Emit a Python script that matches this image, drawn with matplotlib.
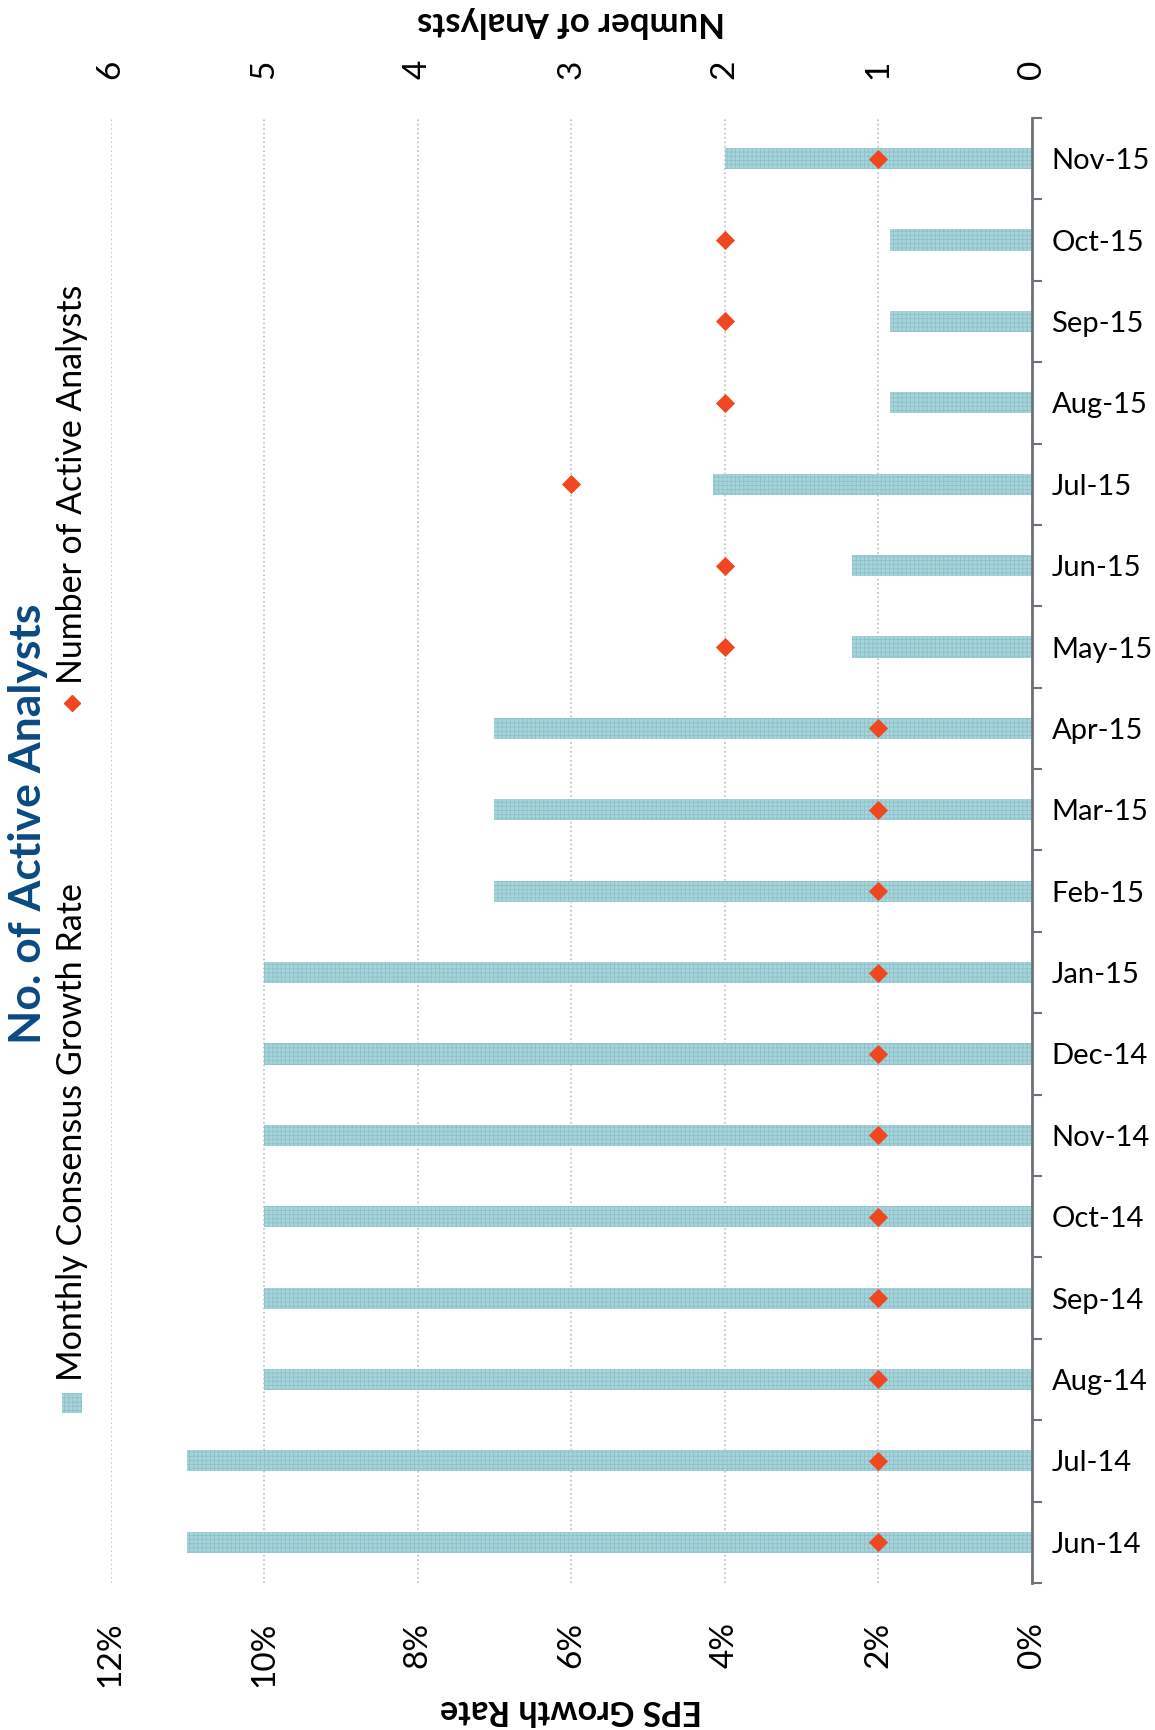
import matplotlib.pyplot as plt
import numpy as np
from matplotlib.patches import Rectangle
from matplotlib.lines import Line2D

plt.rcParams['font.family'] = ['Lato', 'DejaVu Sans']
plt.rcParams['hatch.linewidth'] = 0.6
plt.rcParams['hatch.color'] = '#8cc2ca'

months = ["Jun-14", "Jul-14", "Aug-14", "Sep-14", "Oct-14", "Nov-14", "Dec-14",
          "Jan-15", "Feb-15", "Mar-15", "Apr-15", "May-15", "Jun-15", "Jul-15",
          "Aug-15", "Sep-15", "Oct-15", "Nov-15"]
growth = [11, 11, 10, 10, 10, 10, 10, 10, 7, 7, 7, 2.35, 2.35, 4.15, 1.85, 1.85, 1.85, 4]
analysts = [1, 1, 1, 1, 1, 1, 1, 1, 1, 1, 1, 2, 2, 3, 2, 2, 2, 1]
pct_ticks = [0, 2, 4, 6, 8, 10, 12]
num_ticks = [0, 1, 2, 3, 4, 5, 6]

bar_col = '#a8d3d9'
dia_col = '#ef4722'
axis_col = '#6d7278'
title_col = '#0b4a82'

fig = plt.figure(figsize=(11.55, 17.3), dpi=100)
ax = fig.add_axes([0.0957, 0.085, 0.7978, 0.8468])

y = np.arange(len(months))
ax.barh(y, growth, height=0.26, color=bar_col, hatch='++++', linewidth=0, zorder=2)
ax.set_xlim(12, 0)
ax.set_ylim(-0.5, len(months) - 0.5)

# months on the right side
ax.yaxis.tick_right()
ax.set_yticks(y)
ax.set_yticklabels(months, fontsize=21)
ax.set_yticks(np.arange(-0.5, len(months)), minor=True)
ax.tick_params(axis='y', which='major', length=0, pad=14)
ax.tick_params(axis='y', which='minor', length=7, width=1.5, color=axis_col)

ax.set_xticks(pct_ticks)
ax.set_xticklabels(["%d%%" % t for t in pct_ticks], rotation=90, fontsize=24)
ax.tick_params(axis='x', length=0, pad=28)
ax.grid(axis='x', color='#bfbfbf', linestyle=':', linewidth=1.2, zorder=0)

for s in ['top', 'left', 'bottom']:
    ax.spines[s].set_visible(False)
ax.spines['right'].set_color(axis_col)
ax.spines['right'].set_linewidth(2)

ax2 = ax.twiny()
ax2.set_xlim(6, 0)
ax2.scatter(analysts, y, marker='D', s=95, color=dia_col, zorder=5, linewidths=0)
ax2.set_xticks(num_ticks)
ax2.set_xticklabels([str(t) for t in num_ticks], rotation=90, fontsize=24)
ax2.tick_params(axis='x', length=0, pad=28)
for s in ax2.spines.values():
    s.set_visible(False)

# axis titles (upside down)
fig.text(0.494, 1 - 1710 / 1730, "EPS Growth Rate", rotation=180, fontsize=24.5,
         fontweight='bold', ha='center', va='center')
fig.text(0.494, 1 - 22 / 1730, "Number of Analysts", rotation=180, fontsize=25,
         fontweight='bold', ha='center', va='center')

# title and legend, rotated
fig.text(28 / 1155, 1 - 824 / 1730, "No. of Active Analysts", rotation=90, fontsize=32,
         fontweight='bold', color=title_col, ha='center', va='center')
fig.patches.append(Rectangle((62 / 1155, 1 - 1413 / 1730), 20 / 1155, 20 / 1730,
                             transform=fig.transFigure, facecolor=bar_col, hatch='++++',
                             linewidth=0))
fig.text(72 / 1155, 1 - 1381 / 1730, "Monthly Consensus Growth Rate", rotation=90,
         fontsize=24.6, ha='center', va='bottom')
fig.lines.append(Line2D([72 / 1155], [1 - 703 / 1730], transform=fig.transFigure,
                        marker='D', markersize=8, color=dia_col, linewidth=0))
fig.text(72 / 1155, 1 - 684 / 1730, "Number of Active Analysts", rotation=90,
         fontsize=24.4, ha='center', va='bottom')

fig.savefig('out.png', dpi=100)
